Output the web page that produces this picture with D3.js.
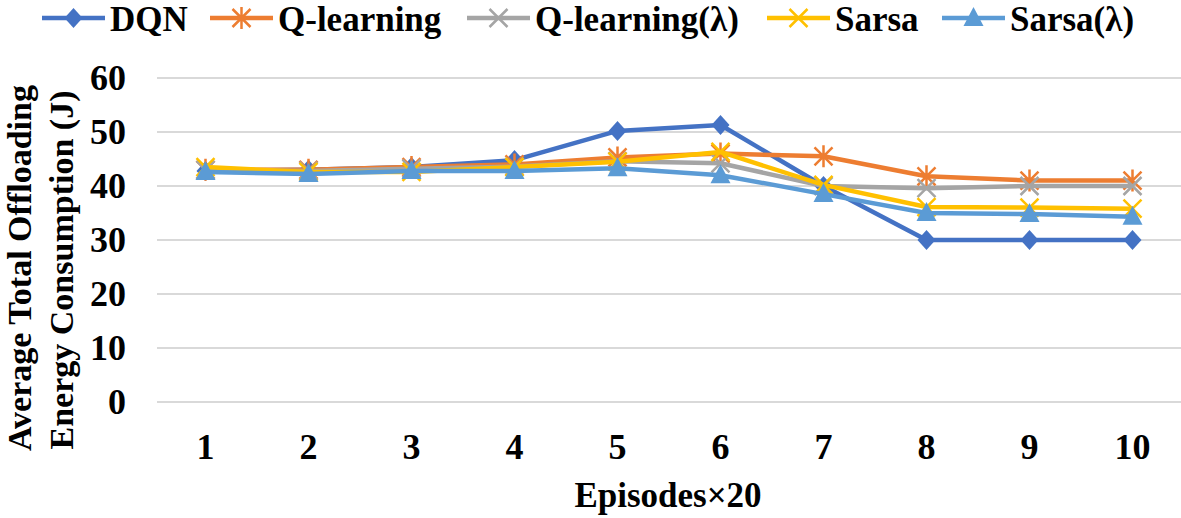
<!DOCTYPE html>
<html>
<head>
<meta charset="utf-8">
<script src="https://cdn.jsdelivr.net/npm/d3@7"></script>
<style>
  body { margin: 0; background: #fff; }
  text { font-family: "Liberation Serif", "Times New Roman", serif; font-weight: bold; fill: #000; }
</style>
</head>
<body>
<div id="chart"></div>
<script>
// episode categories (x20)
const episodes = ["1", "2", "3", "4", "5", "6", "7", "8", "9", "10"];
const yTicks = [0, 10, 20, 30, 40, 50, 60];

// values
const dqn       = [42.8, 43.0, 43.5, 44.8, 50.2, 51.3, 40.0, 30.0, 30.0, 30.0];
const qLearning = [43.0, 43.0, 43.5, 44.0, 45.3, 46.0, 45.5, 41.8, 41.0, 41.0];
const qLambda   = [43.0, 42.8, 43.2, 43.6, 44.6, 44.2, 40.0, 39.6, 40.0, 40.0];
const sarsa     = [43.5, 42.6, 42.6, 43.5, 44.5, 46.3, 40.2, 36.1, 36.0, 35.8];
const sarsaL    = [42.6, 42.2, 42.8, 42.8, 43.3, 42.0, 38.5, 35.0, 34.8, 34.3];

const series = [
  { name: "DQN", values: dqn, color: "#4472C4", marker: "diamond" },
  { name: "Q-learning", values: qLearning, color: "#ED7D31", marker: "star" },
  { name: "Q-learning(λ)", values: qLambda, color: "#A5A5A5", marker: "cross" },
  { name: "Sarsa", values: sarsa, color: "#FFC000", marker: "cross" },
  { name: "Sarsa(λ)", values: sarsaL, color: "#5B9BD5", marker: "triangle" }
];

const width = 1181, height = 518;
const margin = { top: 78, right: 0, bottom: 116, left: 154 };

const svg = d3.select("#chart").append("svg")
  .attr("width", width)
  .attr("height", height);

const x = d3.scaleBand()
  .domain(episodes)
  .range([margin.left, width - margin.right + 3]);

const y = d3.scaleLinear()
  .domain([0, 60])
  .range([height - margin.bottom, margin.top]);

// grid
svg.append("g")
  .selectAll("line")
  .data(yTicks)
  .join("line")
  .attr("x1", 157)
  .attr("x2", width)
  .attr("y1", d => y(d))
  .attr("y2", d => y(d))
  .attr("stroke", "#d9d9d9")
  .attr("stroke-width", 2);

// y axis labels
const yAxis = d3.axisLeft(y).tickValues(yTicks).tickSize(0).tickPadding(0);
svg.append("g")
  .attr("transform", `translate(126,0)`)
  .call(yAxis)
  .call(g => g.select(".domain").remove())
  .selectAll("text")
  .attr("dy", "0.33em")
  .style("font-size", "36px")
  .style("font-family", "Liberation Serif")
  .style("font-weight", "bold");

// x axis labels
const xAxis = d3.axisBottom(x).tickSize(0).tickPadding(0);
svg.append("g")
  .attr("transform", `translate(0,459)`)
  .call(xAxis)
  .call(g => g.select(".domain").remove())
  .selectAll("text")
  .attr("dy", "0")
  .style("font-size", "36px")
  .style("font-family", "Liberation Serif")
  .style("font-weight", "bold");

// axis titles
svg.append("text")
  .attr("x", 668)
  .attr("y", 507)
  .attr("text-anchor", "middle")
  .style("font-size", "35px")
  .text("Episodes×20");

const yTitle = svg.append("g").attr("transform", "translate(0,268) rotate(-90)");
yTitle.append("text")
  .attr("x", 0).attr("y", 31)
  .attr("text-anchor", "middle")
  .style("font-size", "34px")
  .text("Average Total Offloading");
yTitle.append("text")
  .attr("x", -2).attr("y", 73)
  .attr("text-anchor", "middle")
  .style("font-size", "34px")
  .text("Energy Consumption (J)");

// markers
function drawMarker(g, type, color) {
  if (type === "diamond") {
    g.append("path").attr("d", "M0,-10L9,0L0,10L-9,0Z").attr("fill", color);
  } else if (type === "triangle") {
    g.append("path").attr("d", "M0,-11L10,8L-10,8Z").attr("fill", color);
  } else if (type === "star") {
    g.append("path")
      .attr("d", "M-9,-9L9,9M-9,9L9,-9M0,-11L0,11")
      .attr("stroke", color).attr("stroke-width", 2.5).attr("fill", "none");
  } else {
    g.append("path")
      .attr("d", "M-9,-9L9,9M-9,9L9,-9")
      .attr("stroke", color).attr("stroke-width", 2.5).attr("fill", "none");
  }
}

const line = d3.line()
  .x((d, i) => x(episodes[i]) + x.bandwidth() / 2)
  .y(d => y(d));

series.forEach(s => {
  const g = svg.append("g");
  g.append("path")
    .datum(s.values)
    .attr("d", line)
    .attr("fill", "none")
    .attr("stroke", s.color)
    .attr("stroke-width", 4.5)
    .attr("stroke-linejoin", "round");
  s.values.forEach((v, i) => {
    const m = g.append("g")
      .attr("transform", `translate(${x(episodes[i]) + x.bandwidth() / 2},${y(v)})`);
    drawMarker(m, s.marker, s.color);
  });
});

// legend
const legendX = [42, 210, 467, 767, 942];
const legend = svg.append("g");
series.forEach((s, i) => {
  const g = legend.append("g").attr("transform", `translate(${legendX[i]},18)`);
  g.append("line")
    .attr("x1", 0).attr("x2", 63)
    .attr("stroke", s.color)
    .attr("stroke-width", 4.5);
  const m = g.append("g").attr("transform", "translate(31.5,0)");
  drawMarker(m, s.marker, s.color);
  g.append("text")
    .attr("x", 68)
    .attr("y", 13)
    .style("font-size", "35px")
    .text(s.name);
});
</script>
</body>
</html>
